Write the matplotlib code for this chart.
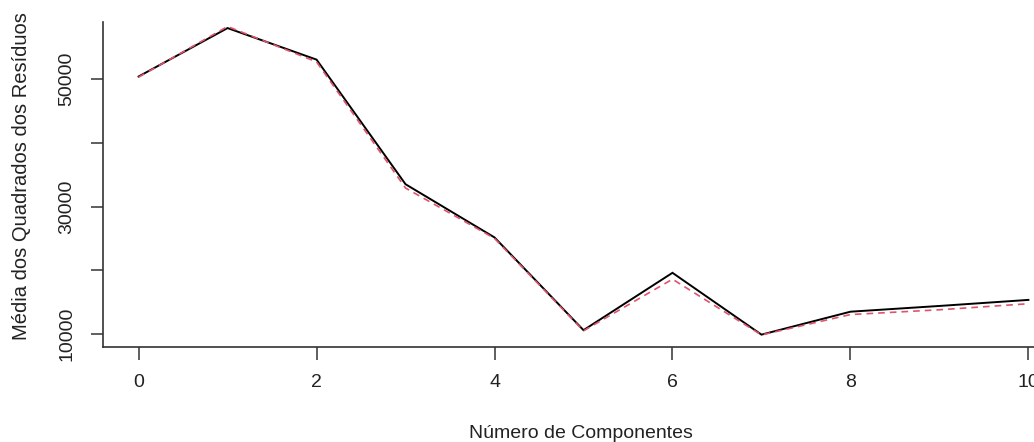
import matplotlib
matplotlib.use("Agg")
import matplotlib.pyplot as plt

components = [0, 1, 2, 3, 4, 5, 6, 7, 8, 9, 10]
cv = [50400, 58000, 53050, 33500, 25150, 10600, 19600, 9900, 13500, 14400, 15350]
adj_cv = [50300, 58250, 52700, 32900, 25000, 10500, 18600, 9850, 13050, 13800, 14750]
x_ticks = [0, 2, 4, 6, 8, 10]
y_ticks = [10000, 20000, 30000, 40000, 50000]
y_labels = ["10000", "", "30000", "", "50000"]

plt.rcParams['font.family'] = ['Liberation Sans', 'DejaVu Sans']

W, H = 1034, 442
fig = plt.figure(figsize=(W / 100, H / 100), dpi=100)
left, right, top, bottom = 103, 1064, 21.7, 347
ax = fig.add_axes([left / W, (H - bottom) / H, (right - left) / W, (bottom - top) / H])

ax.plot(components, cv, color='black', lw=1.4, solid_joinstyle='miter')
ax.plot(components, adj_cv, color='#DF536B', lw=1.2, ls=(0, (4, 3)))

ax.set_xlim(-0.4, 10.4)
ax.set_ylim(7960, 59000)
ax.set_xticks(x_ticks)
ax.set_yticks(y_ticks)
ax.set_yticklabels(y_labels, rotation=90, va='center')
for s in ['top', 'right']:
    ax.spines[s].set_visible(False)
for s in ['left', 'bottom']:
    ax.spines[s].set_color('#333333')
    ax.spines[s].set_linewidth(1.2)
ax.tick_params(axis='both', direction='out', length=9, width=1.1, color='#333333',
               labelsize=14, labelcolor='#222222')
ax.tick_params(axis='x', pad=10.5)
ax.tick_params(axis='y', pad=11)

fig.text(581 / W, 1 - 434 / H, 'Número de Componentes', ha='center', va='center',
         fontsize=14, color='#222222')
fig.text(22 / W, 1 - 176 / H, 'Média dos Quadrados dos Resíduos', ha='center', va='center',
         rotation=90, fontsize=14.5, color='#222222')

fig.savefig('out.png', dpi=100)
